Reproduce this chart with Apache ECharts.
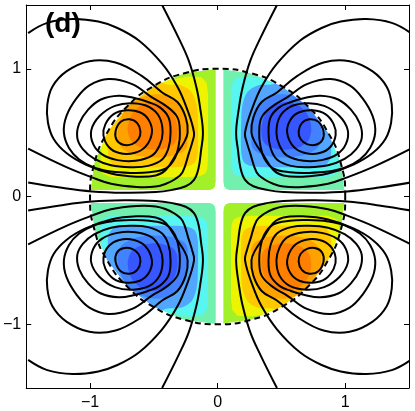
<!DOCTYPE html>
<html>
<head>
<meta charset="utf-8">
<script src="https://cdn.jsdelivr.net/npm/echarts@6/dist/echarts.min.js"></script>
<style>
  html, body { margin: 0; padding: 0; background: #fff; }
  #chart { width: 415px; height: 411px; }
</style>
</head>
<body>
<div id="chart"></div>
<script>
"use strict";

// axis ticks
const X_TICKS = [-1, 0, 1];
const Y_TICKS = [-1, 0, 1];

// quadrants: UR, UL, LL, LR  (sign of field: -1 cool, +1 warm)
const QUAD_SX   = [1, -1, -1, 1];
const QUAD_SY   = [1, 1, -1, -1];
const QUAD_SIGN = [-1, 1, -1, 1];
// the four-cell pattern sits a little right of x = 0
const PATTERN_X0 = 0.015;

// filled levels, read in one quadrant (u = |x - x0|, v = |y|), outer -> inner
const LEVEL_1 = [[0.03,1.25],[0.03,0.12],[0.036,0.08],[0.05,0.06],[0.075,0.05],[0.12,0.05],[1.25,0.05],[1.25,1.25]];
const LEVEL_2 = [[0.09,0.3],[0.09,0.8],[0.1,0.89],[0.14,0.935],[0.25,0.94],[0.35,0.92],[0.5,0.95],[1.25,1.25],[0.95,0.5],
                 [0.925,0.36],[0.94,0.25],[0.92,0.18],[0.85,0.15],[0.25,0.15],[0.15,0.16],[0.11,0.18],[0.095,0.22]];
const LEVEL_3 = [[0.17,0.35],[0.17,0.6],[0.18,0.72],[0.22,0.82],[0.3,0.87],[0.42,0.88],[0.55,0.95],[1.1,1.1],[0.95,0.55],
                 [0.88,0.42],[0.87,0.3],[0.82,0.24],[0.72,0.23],[0.35,0.23],[0.24,0.24],[0.19,0.27]];
const LEVEL_4 = [[0.25,0.45],[0.26,0.6],[0.3,0.7],[0.38,0.77],[0.48,0.8],[0.6,0.78],[0.7,0.72],[0.78,0.6],[0.8,0.5],
                 [0.78,0.4],[0.7,0.34],[0.58,0.31],[0.42,0.31],[0.31,0.34],[0.26,0.38]];
const LEVEL_5 = [[0.33,0.48],[0.34,0.6],[0.39,0.68],[0.47,0.73],[0.56,0.735],[0.65,0.69],[0.71,0.59],[0.71,0.47],[0.65,0.4],
                 [0.55,0.37],[0.44,0.375],[0.36,0.41]];
const FILL_LEVELS = [LEVEL_1, LEVEL_2, LEVEL_3, LEVEL_4, LEVEL_5];
const FILL_SMOOTH = [0, 0, 0.3, 0.4, 0.4];

// black streamlines, read in the upper right quadrant, inner -> outer
const RING_1 = [[0.62,0.51],[0.645,0.575],[0.705,0.605],[0.775,0.585],[0.815,0.51],[0.805,0.44],[0.755,0.405],[0.685,0.41],[0.635,0.45]];
const RING_2 = [[0.53,0.5],[0.555,0.6],[0.625,0.66],[0.73,0.675],[0.83,0.645],[0.895,0.565],[0.91,0.48],[0.87,0.39],[0.785,0.34],[0.67,0.34],[0.58,0.39]];
const RING_3 = [[0.446,0.5],[0.47,0.62],[0.55,0.7],[0.68,0.73],[0.82,0.71],[0.94,0.63],[1.005,0.52],[0.99,0.41],[0.92,0.33],[0.8,0.285],[0.66,0.28],[0.53,0.32],[0.47,0.4]];
const RING_4 = [[0.384,0.5],[0.4,0.62],[0.47,0.7],[0.56,0.74],[0.66,0.77],[0.79,0.79],[0.93,0.76],[1.03,0.68],[1.1,0.57],[1.115,0.46],[1.07,0.37],
                [0.98,0.295],[0.85,0.245],[0.7,0.23],[0.56,0.24],[0.45,0.29],[0.4,0.38]];
const RING_5 = [[0.311,0.5],[0.33,0.62],[0.42,0.71],[0.53,0.776],[0.685,0.88],[0.87,0.92],[1.02,0.87],[1.12,0.77],[1.2,0.63],[1.22,0.5],[1.18,0.38],
                [1.1,0.29],[0.98,0.225],[0.85,0.195],[0.7,0.185],[0.55,0.19],[0.42,0.22],[0.35,0.3],[0.32,0.4]];
const RING_6 = [[0.25,0.5],[0.265,0.62],[0.33,0.74],[0.45,0.815],[0.61,0.945],[0.815,1.05],[1.02,1.06],[1.2,0.98],[1.31,0.86],[1.35,0.72],[1.345,0.58],
                [1.3,0.45],[1.2,0.34],[1.05,0.25],[0.85,0.18],[0.65,0.155],[0.5,0.165],[0.42,0.21],[0.34,0.33],[0.28,0.42]];
const ARM_7  = [[1.5,1.28],[1.35,1.36],[1.15,1.39],[0.95,1.37],[0.8,1.32],[0.63,1.22],[0.45,1.04],[0.33,0.86],[0.26,0.7],[0.2,0.5],[0.215,0.42],
                [0.24,0.34],[0.29,0.19],[0.35,0.135],[0.42,0.1],[0.5,0.078],[0.65,0.075],[0.85,0.1],[1.0,0.15],[1.2,0.23],[1.5,0.375]];
const ARM_8  = [[0.45,1.5],[0.32,1.24],[0.24,1.06],[0.18,0.85],[0.15,0.68],[0.13,0.5],[0.145,0.36],[0.165,0.22],[0.2,0.13],[0.265,0.08],
                [0.38,0.05],[0.5,0.035],[0.75,0.03],[1.0,0.04],[1.25,0.07],[1.5,0.11]];
const STREAMLINES = [RING_1, RING_2, RING_3, RING_4, RING_5, RING_6, ARM_7, ARM_8];
const CLOSED      = [true, true, true, true, true, true, false, false];

// unit circle (dashed), one quarter
const CIRCLE_QUARTER = [[1,0],[0.966,0.259],[0.866,0.5],[0.707,0.707],[0.5,0.866],[0.259,0.966],[0,1]];

const WARM_COLORS = ["#a2f02a", "#eef300", "#ffc800", "#ffa200", "#ff8000"];
const COOL_COLORS = ["#72f0ae", "#58f6f0", "#52a6ff", "#4282ff", "#3656ff"];

const FONT = "'Liberation Sans', Arial, Helvetica, sans-serif";

function tickLabel(v) {
  return v < 0 ? "\u2212" + Math.abs(v) : String(v);
}

function toPixels(api, pts, sx, sy, x0) {
  return pts.map(p => api.coord([x0 + sx * p[0], sy * p[1]]));
}

function renderFill(params, api) {
  const q = api.value(0), lvl = api.value(1);
  const colors = QUAD_SIGN[q] > 0 ? WARM_COLORS : COOL_COLORS;
  return {
    type: "polygon",
    shape: { points: toPixels(api, FILL_LEVELS[lvl], QUAD_SX[q], QUAD_SY[q], PATTERN_X0), smooth: FILL_SMOOTH[lvl] },
    style: { fill: colors[lvl], stroke: null }
  };
}

// white mask outside the circle so the fills stop at r = 1
function renderMask(params, api) {
  const q = api.value(0);
  const pts = CIRCLE_QUARTER.concat([[0, 1.3], [1.3, 1.3], [1.3, 0]]);
  return {
    type: "polygon",
    shape: { points: toPixels(api, pts, QUAD_SX[q], QUAD_SY[q], 0) },
    style: { fill: "#fff", stroke: null }
  };
}

function renderLine(params, api) {
  const q = api.value(0), k = api.value(1);
  return {
    type: CLOSED[k] ? "polygon" : "polyline",
    shape: { points: toPixels(api, STREAMLINES[k], QUAD_SX[q], QUAD_SY[q], PATTERN_X0), smooth: 0.4 },
    style: { fill: "none", stroke: "#000", lineWidth: 2 }
  };
}

function renderCircle(params, api) {
  const full = [
    ...CIRCLE_QUARTER,
    ...CIRCLE_QUARTER.slice(0, -1).reverse().map(p => [-p[0], p[1]]),
    ...CIRCLE_QUARTER.slice(1).map(p => [-p[0], -p[1]]),
    ...CIRCLE_QUARTER.slice(1, -1).reverse().map(p => [p[0], -p[1]])
  ];
  return {
    type: "polygon",
    shape: { points: toPixels(api, full, 1, 1, 0), smooth: 0.5 },
    style: { fill: "none", stroke: "#000", lineWidth: 2, lineDash: [6, 4] }
  };
}

document.addEventListener("DOMContentLoaded", () => {
  const chart = echarts.init(document.getElementById("chart"), null, { renderer: "canvas" });

  const fillData = [], maskData = [], lineData = [];
  for (let q = 0; q < 4; q++) {
    maskData.push([q, 0]);
    FILL_LEVELS.forEach((_, l) => fillData.push([q, l]));
    STREAMLINES.forEach((_, k) => lineData.push([q, k]));
  }

  const frameX = (pos, labels) => ({
    type: "value", min: -1.5, max: 1.5, position: pos,
    axisLine: { show: true, onZero: false, lineStyle: { color: "#000", width: 1 } },
    axisTick: { show: true, inside: true, length: 5, customValues: X_TICKS, lineStyle: { color: "#000" } },
    axisLabel: { show: labels, customValues: X_TICKS, formatter: tickLabel, color: "#000", fontSize: 16, fontFamily: FONT, margin: 7 },
    splitLine: { show: false }
  });
  const frameY = (pos, labels) => ({
    type: "value", min: -1.5, max: 1.5, position: pos,
    axisLine: { show: true, onZero: false, lineStyle: { color: "#000", width: 1 } },
    axisTick: { show: true, inside: true, length: 5, customValues: Y_TICKS, lineStyle: { color: "#000" } },
    axisLabel: { show: labels, customValues: Y_TICKS, formatter: tickLabel, color: "#000", fontSize: 16, fontFamily: FONT, margin: 5 },
    splitLine: { show: false }
  });

  chart.setOption({
    animation: false,
    backgroundColor: "#fff",
    grid: { left: 25, right: 6, top: 5, bottom: 23, containLabel: false },
    xAxis: [frameX("bottom", true), frameX("top", false)],
    yAxis: [frameY("left", true), frameY("right", false)],
    graphic: [{
      type: "text", left: 45, top: 10, z: 100,
      style: { text: "(d)", font: "bold 28px " + FONT, fill: "#000" }
    }],
    series: [
      { type: "custom", name: "fill",   renderItem: renderFill,   data: fillData, z: 1, clip: true, silent: true },
      { type: "custom", name: "mask",   renderItem: renderMask,   data: maskData, z: 2, clip: true, silent: true },
      { type: "custom", name: "lines",  renderItem: renderLine,   data: lineData, z: 3, clip: true, silent: true },
      { type: "custom", name: "circle", renderItem: renderCircle, data: [[0, 0]], z: 4, clip: true, silent: true }
    ]
  });
  window.addEventListener("resize", () => chart.resize());
});
</script>
</body>
</html>
